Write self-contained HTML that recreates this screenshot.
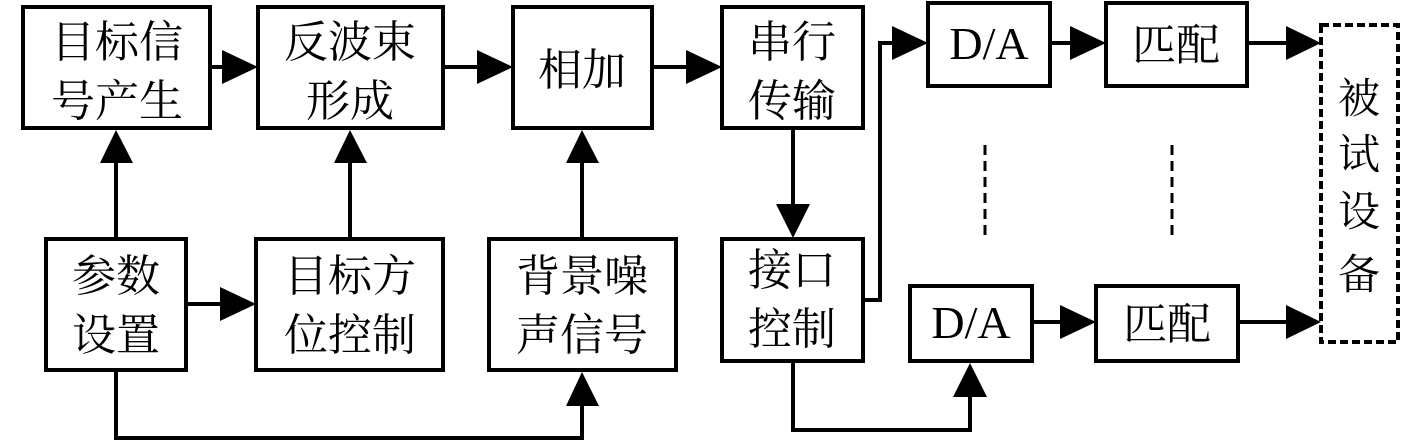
<!DOCTYPE html>
<html><head><meta charset="utf-8"><style>
html,body{margin:0;padding:0;background:#fff;}
svg{display:block;}
text{font-family:"Liberation Serif","Noto Serif CJK SC",serif;fill:#000;}
</style></head><body>
<svg width="1417" height="442" viewBox="0 0 1417 442" xmlns="http://www.w3.org/2000/svg">
<g fill="none" stroke="#000" stroke-width="4">
<rect x="23" y="7" width="187" height="121"/>
<rect x="258" y="7" width="185" height="121"/>
<rect x="513" y="7" width="139" height="121"/>
<rect x="46" y="239" width="140" height="131"/>
<rect x="256" y="239" width="187" height="131"/>
<rect x="489" y="239" width="187" height="131"/>
<rect x="722" y="7" width="141" height="121"/>
<rect x="722" y="239" width="141" height="122"/>
<rect x="928" y="3" width="122" height="83"/>
<rect x="1106" y="3" width="141" height="83"/>
<rect x="910" y="286" width="122" height="75"/>
<rect x="1096" y="286" width="142" height="75"/>
<rect x="1321" y="25" width="77" height="317" stroke-dasharray="8,4"/>
<line x1="985" y1="145" x2="985" y2="237" stroke-width="3" stroke-dasharray="10,6"/>
<line x1="1172" y1="145" x2="1172" y2="237" stroke-width="3" stroke-dasharray="10,6"/>
<!-- connectors -->
<line x1="210" y1="67" x2="224" y2="67"/>
<line x1="443" y1="67" x2="478" y2="67"/>
<line x1="652" y1="67" x2="688" y2="67"/>
<line x1="116" y1="239" x2="116" y2="163"/>
<line x1="350" y1="239" x2="350" y2="163"/>
<line x1="582" y1="239" x2="582" y2="163"/>
<line x1="186" y1="304" x2="222" y2="304"/>
<polyline points="116,370 116,438 582,438 582,405"/>
<line x1="793" y1="128" x2="793" y2="205"/>
<polyline points="863,300 880,300 880,43 894,43"/>
<line x1="1050" y1="43" x2="1072" y2="43"/>
<line x1="1247" y1="43" x2="1288" y2="43"/>
<line x1="1032" y1="322" x2="1062" y2="322"/>
<line x1="1238" y1="322" x2="1288" y2="322"/>
<polyline points="793,361 793,430 970,430 970,396"/>
</g>
<g fill="#000">
<polygon points="222,50 258,67 222,84"/>
<polygon points="477,50 513,67 477,84"/>
<polygon points="686,50 722,67 686,84"/>
<polygon points="100,163 133,163 116,130"/>
<polygon points="334,163 367,163 350,130"/>
<polygon points="566,163 599,163 582,130"/>
<polygon points="220,287 256,304 220,321"/>
<polygon points="566,406 599,406 582,372"/>
<polygon points="776,204 810,204 793,238"/>
<polygon points="892,26 928,43 892,60"/>
<polygon points="1070,26 1106,43 1070,60"/>
<polygon points="1286,26 1321,43 1286,60"/>
<polygon points="1060,305 1096,322 1060,339"/>
<polygon points="1286,305 1321,322 1286,339"/>
<polygon points="953,397 987,397 970,363"/>
</g>
<g font-size="44" text-anchor="middle">
<text x="117" y="57">目标信</text><text x="117" y="116">号产生</text>
<text x="350" y="57">反波束</text><text x="350" y="116">形成</text>
<text x="582" y="85">相加</text>
<text x="116" y="291">参数</text><text x="116" y="350">设置</text>
<text x="350" y="291">目标方</text><text x="350" y="350">位控制</text>
<text x="582" y="291">背景噪</text><text x="582" y="350">声信号</text>
<text x="792" y="57">串行</text><text x="792" y="116">传输</text>
<text x="792" y="285">接口</text><text x="792" y="344">控制</text>
<text x="1176" y="60">匹配</text>
<text x="1167" y="339">匹配</text>
<text x="989" y="59" font-size="46">D/A</text>
<text x="971" y="338" font-size="46">D/A</text>
</g>
<g font-size="42" text-anchor="middle">
<text x="1359" y="113">被</text>
<text x="1359" y="169">试</text>
<text x="1359" y="226">设</text>
<text x="1359" y="289">备</text>
</g>
</svg>
</body></html>
